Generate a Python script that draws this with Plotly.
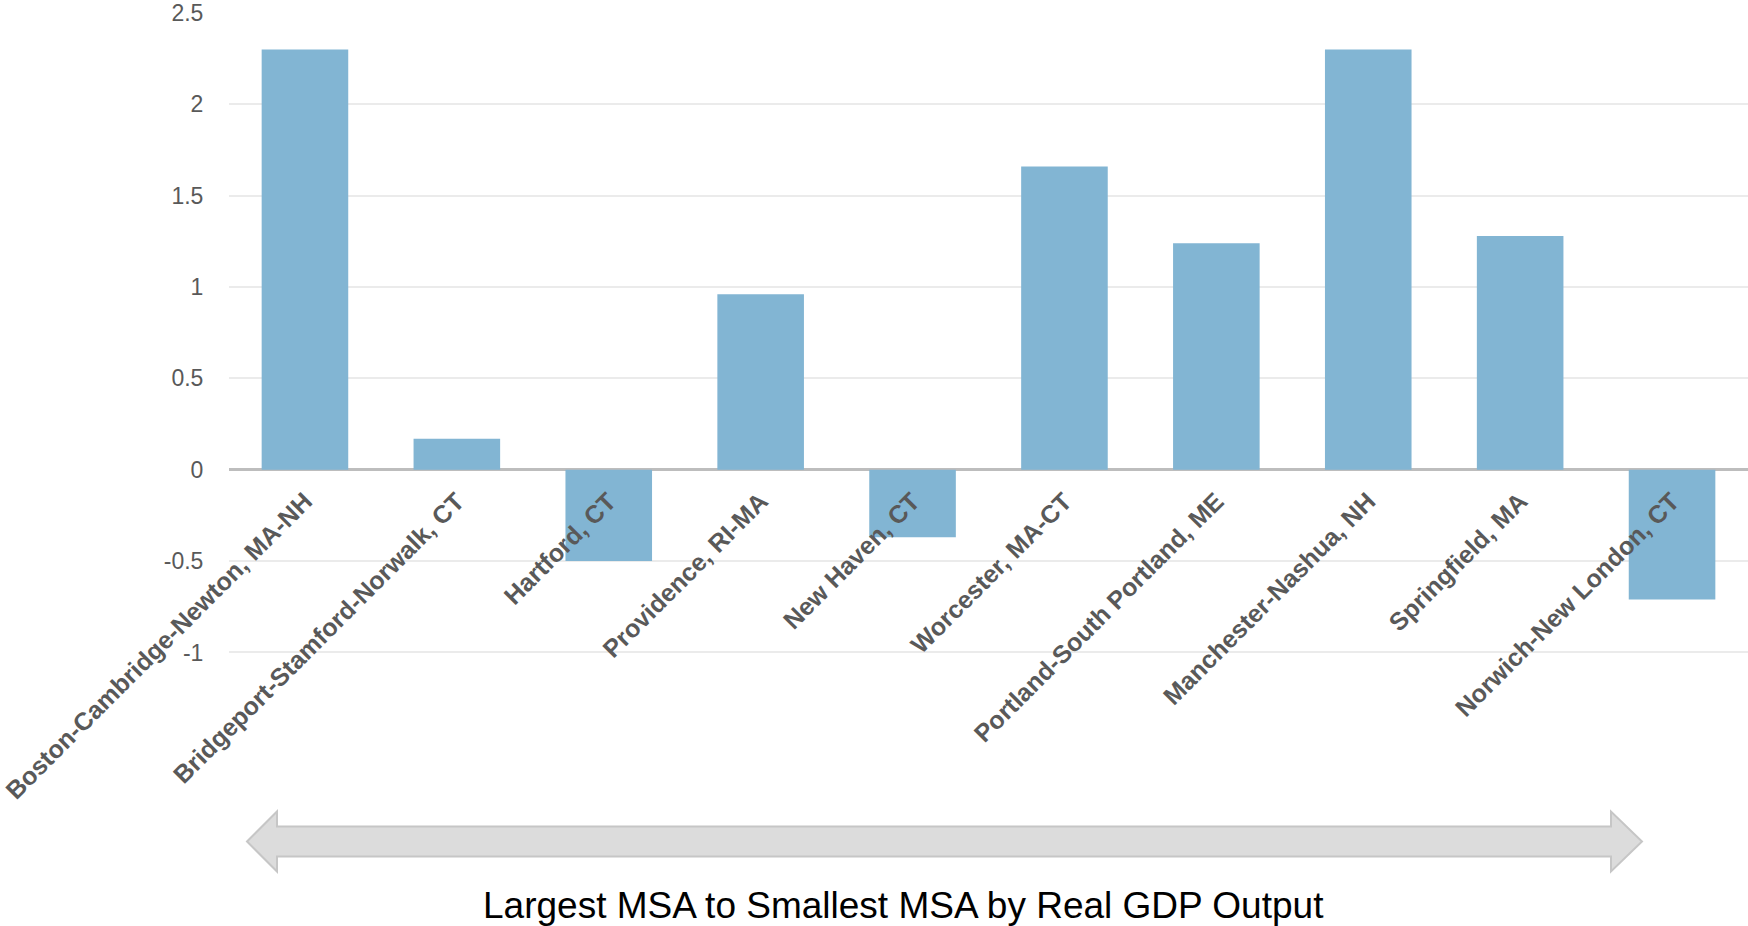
import plotly.graph_objects as go

categories = [
    "Boston-Cambridge-Newton, MA-NH",
    "Bridgeport-Stamford-Norwalk, CT",
    "Hartford, CT",
    "Providence, RI-MA",
    "New Haven, CT",
    "Worcester, MA-CT",
    "Portland-South Portland, ME",
    "Manchester-Nashua, NH",
    "Springfield, MA",
    "Norwich-New London, CT",
]
values = [2.30, 0.17, -0.50, 0.96, -0.37, 1.66, 1.24, 2.30, 1.28, -0.71]
y_tick_vals = [-1, -0.5, 0, 0.5, 1, 1.5, 2, 2.5]
y_tick_text = ["-1", "-0.5", "0", "0.5", "1", "1.5", "2", "2.5"]
footer_text = "Largest MSA to Smallest MSA by Real GDP Output"

W, H = 1748, 926
L, R, T = 229, 0, 13
Y_MIN, Y_MAX = -1.2, 2.5
B = 236.6

fig = go.Figure()
fig.add_trace(go.Bar(
    x=categories, y=values,
    marker=dict(color="#82b5d3", line=dict(width=0)),
    width=0.57,
))

plot_h = H - T - B
plot_w = W - L - R

def px_to_paper(px, py):
    return ((px - L) / plot_w, (H - B - py) / plot_h)

arrow_pts = [(247, 842), (277, 812), (277, 827), (1611, 827), (1611, 812), (1642, 842),
             (1611, 872), (1611, 857), (277, 857), (277, 872)]
path = ""
for i, (ax, ay) in enumerate(arrow_pts):
    xp, yp = px_to_paper(ax, ay)
    path += ("M" if i == 0 else "L") + f"{xp:.5f},{yp:.5f} "
path += "Z"

zero_pos = (0 - Y_MIN) / (Y_MAX - Y_MIN)

fx, fy = px_to_paper(903, 906)

fig.update_layout(
    width=W, height=H,
    margin=dict(l=L, r=R, t=T, b=B, pad=0),
    paper_bgcolor="white", plot_bgcolor="white",
    showlegend=False,
    font=dict(family="Liberation Sans, Arial, sans-serif"),
    xaxis=dict(
        anchor="free", position=zero_pos,
        tickangle=-45,
        tickfont=dict(size=25, color="#595959", weight="bold",
                      family="Liberation Sans, Arial, sans-serif"),
        showline=False, showgrid=False, zeroline=False,
        ticks="outside", ticklen=6, tickcolor="rgba(0,0,0,0)",
        range=[-0.5, 9.5],
    ),
    yaxis=dict(
        range=[Y_MIN, Y_MAX],
        tickvals=y_tick_vals, ticktext=y_tick_text,
        tickfont=dict(size=23, color="#595959"),
        showgrid=True, gridcolor="#ebebeb", gridwidth=2,
        zeroline=True, zerolinecolor="#bdbdbd", zerolinewidth=3,
        showline=False,
        ticks="outside", ticklen=20, tickcolor="rgba(0,0,0,0)",
    ),
    shapes=[dict(type="path", xref="paper", yref="paper", path=path,
                 fillcolor="#dcdcdc", line=dict(color="#c6c6c6", width=2),
                 layer="above")],
    annotations=[dict(text=footer_text, xref="paper", yref="paper",
                      x=fx, y=fy, xanchor="center", yanchor="middle",
                      showarrow=False,
                      font=dict(size=37, color="#000000",
                                family="Liberation Sans, Arial, sans-serif"))],
)

fig.write_html("out.html")
